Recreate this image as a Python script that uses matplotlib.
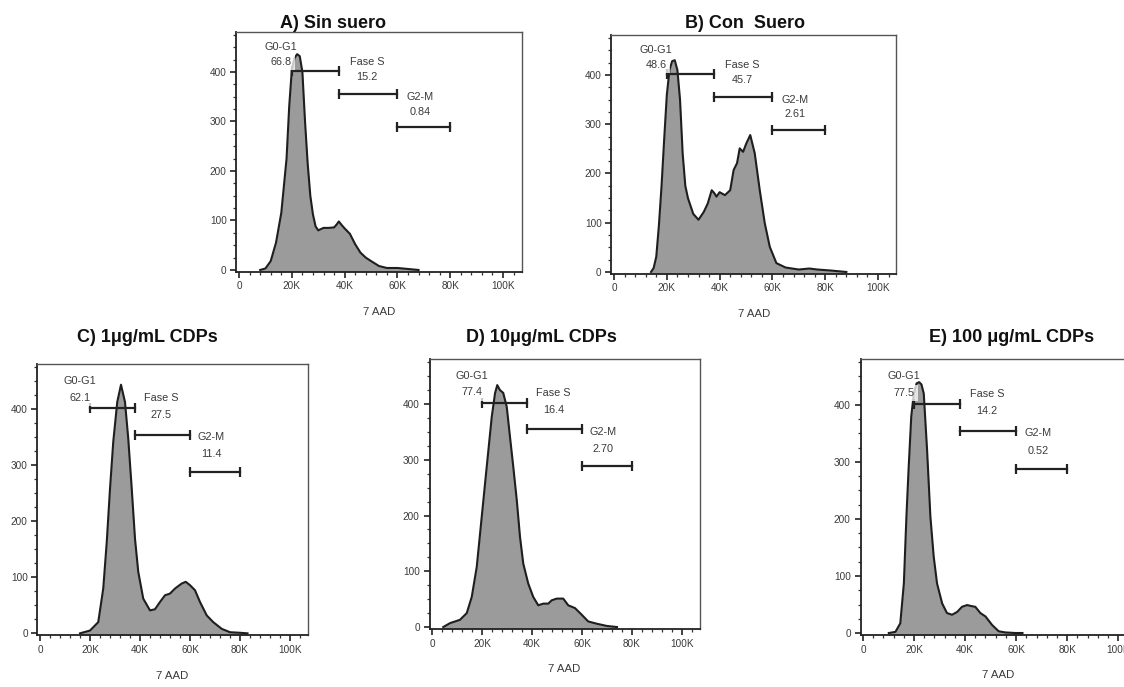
import matplotlib
matplotlib.use("Agg")
import matplotlib.pyplot as plt
from matplotlib.ticker import MultipleLocator, FixedLocator, FixedFormatter

# ---------------- data (x in thousands of 7-AAD units, y = count) ----------------
titles = ["A) Sin suero", "B) Con  Suero", "C) 1μg/mL CDPs", "D) 10μg/mL CDPs", "E) 100 μg/mL CDPs"]

x_a = [8, 10, 12, 14, 16, 18, 19, 20, 21, 22, 23, 24, 25, 26, 27, 28, 29, 30, 32, 34, 36, 37,
       37.8, 39, 40, 42, 44, 46, 48, 50, 53, 56, 60, 64, 68]
y_a = [0, 3, 18, 55, 115, 225, 330, 405, 428, 436, 432, 400, 300, 215, 150, 112, 88, 80, 85, 85,
       86, 92, 98, 90, 84, 73, 52, 35, 25, 18, 8, 4, 4, 2, 0]

x_b = [14, 15, 16, 17, 18, 19, 20, 21, 22, 23, 24, 25, 26, 27, 28, 30, 32, 34, 35.5, 37, 38, 38.8,
       40, 42, 44, 45.3, 46.6, 47.6, 48.9, 50.1, 51.6, 53.3, 55.2, 57.1, 59, 61.5, 65, 70, 74, 77, 82, 88]
y_b = [0, 8, 31, 95, 175, 270, 360, 410, 428, 430, 410, 350, 240, 175, 150, 118, 106, 122, 139,
       166, 160, 153, 162, 156, 166, 207, 221, 251, 244, 261, 278, 241, 166, 99, 51, 18, 9, 5, 7, 5, 3, 0]

x_c = [16, 20, 23.3, 25.3, 26.7, 28, 29.3, 30.9, 32.4, 34, 35.3, 36.7, 38, 39.3, 41.3, 44, 46, 48,
       50, 52, 54, 56.7, 58.3, 60, 62, 64, 66.7, 69.3, 72.7, 76, 80, 83]
y_c = [0, 5, 20, 80, 163, 258, 342, 413, 444, 413, 348, 258, 169, 110, 62, 41, 43, 56, 68, 71, 80,
       89, 92, 86, 77, 56, 32, 20, 8, 2, 1, 0]

x_d = [4.5, 7.2, 11.2, 13.9, 15.9, 17.9, 19.9, 21.9, 23.9, 25.2, 26.1, 27.2, 28.5, 29.9, 31.2, 32.5,
       33.9, 35.2, 36.5, 38.5, 40.5, 42.5, 44.5, 46.5, 47.9, 49.9, 52.5, 54.5, 57.2, 59.9, 62.5, 65.9, 69.9, 74]
y_d = [0, 7, 13, 25, 54, 108, 198, 288, 377, 419, 434, 425, 420, 395, 341, 288, 228, 162, 114, 78,
       54, 39, 42, 42, 48, 51, 51, 39, 34, 22, 10, 6, 2, 0]

x_e = [10.1, 12.7, 14.6, 16, 17, 17.9, 18.9, 19.9, 21, 22, 22.9, 23.8, 25.1, 26.4, 27.7, 29, 31,
       32.9, 34.9, 36.9, 38.8, 40.8, 42.7, 44, 46, 48, 50.6, 53.2, 55.8, 59.7, 62.5]
y_e = [0, 2, 17, 87, 204, 292, 380, 420, 438, 440, 436, 420, 321, 204, 134, 87, 52, 35, 32, 37, 46,
       49, 47, 46, 35, 29, 14, 3, 1, 0, 0]

gate_names = ["G0-G1", "Fase S", "G2-M"]
gate_ranges = [(20, 38), (38, 60), (60, 80)]
gate_levels = [402, 355, 288]
pct_g0g1 = ["66.8", "48.6", "62.1", "77.4", "77.5"]
pct_s = ["15.2", "45.7", "27.5", "16.4", "14.2"]
pct_g2m = ["0.84", "2.61", "11.4", "2.70", "0.52"]

x_ticks = [0, 20, 40, 60, 80, 100]
x_ticklabels = ["0", "20K", "40K", "60K", "80K", "100K"]
y_ticks = [0, 100, 200, 300, 400]

series = [(x_a, y_a), (x_b, y_b), (x_c, y_c), (x_d, y_d), (x_e, y_e)]

# ---------------- layout ----------------
W, H = 1124, 687
fig = plt.figure(figsize=(W / 100, H / 100), dpi=100)
fig.patch.set_facecolor("white")

XLIM = (-1, 107)
YLIM = (-3.5, 481)
# pixel boxes: left, top, right, bottom
boxes = [(236.4, 31.9, 521.5, 271.7),
         (611.4, 35.1, 896.5, 273.7),
         (37.5, 364.0, 307.5, 635.3),
         (429.5, 358.9, 699.5, 629.0),
         (860.5, 358.8, 1136.0, 635.0)]
title_pos = [(333, 23), (745, 23), (147, 338), (541, 338), (1012, 337)]

FILL = "#9b9b9b"
EDGE = "#1e1e1e"
TXT = "#3a3a3a"
FONT = ["Liberation Sans", "DejaVu Sans"]
GFS = 7.8

for i, ((xs, ys), (l, t, r, b)) in enumerate(zip(series, boxes)):
    ax = fig.add_axes([l / W, 1 - b / H, (r - l) / W, (b - t) / H])
    ax.set_xlim(*XLIM)
    ax.set_ylim(*YLIM)
    ax.fill_between(xs, ys, -3.5, color=FILL, lw=0, zorder=1)
    ax.plot(xs, ys, color=EDGE, lw=1.5, zorder=2, solid_joinstyle="round")

    # gates
    for (g0, g1), lvl in zip(gate_ranges, gate_levels):
        ax.plot([g0, g1], [lvl, lvl], color="#222222", lw=1.6, zorder=3,
                marker="|", markersize=7, markeredgewidth=1.6, markevery=[0, 1])
    # gate labels
    ax.text(16, 450, gate_names[0], ha="center", va="center", fontsize=GFS, color=TXT,
            family=FONT, zorder=5)
    ax.text(16, 421, pct_g0g1[i], ha="center", va="center", fontsize=GFS, color=TXT,
            family=FONT, zorder=5,
            bbox=dict(boxstyle="square,pad=0.3", facecolor="white", alpha=0.75, edgecolor="none"))
    ax.text(48.5, 420, gate_names[1], ha="center", va="center", fontsize=GFS, color=TXT,
            family=FONT, zorder=5)
    ax.text(48.5, 390, pct_s[i], ha="center", va="center", fontsize=GFS, color=TXT,
            family=FONT, zorder=5)
    ax.text(68.5, 350, gate_names[2], ha="center", va="center", fontsize=GFS, color=TXT,
            family=FONT, zorder=5)
    ax.text(68.5, 320, pct_g2m[i], ha="center", va="center", fontsize=GFS, color=TXT,
            family=FONT, zorder=5)

    # axes styling
    for side in ["left", "bottom"]:
        ax.spines[side].set_color("#222222")
        ax.spines[side].set_linewidth(1.3)
    for side in ["top", "right"]:
        ax.spines[side].set_color("#555555")
        ax.spines[side].set_linewidth(1.0)
    ax.xaxis.set_major_locator(FixedLocator(x_ticks))
    ax.xaxis.set_major_formatter(FixedFormatter(x_ticklabels))
    ax.xaxis.set_minor_locator(MultipleLocator(4))
    ax.yaxis.set_major_locator(FixedLocator(y_ticks))
    ax.yaxis.set_minor_locator(MultipleLocator(25))
    ax.tick_params(which="major", direction="out", length=4, width=1.2, color="#222222",
                   labelsize=7.2, labelcolor=TXT, pad=3)
    ax.tick_params(which="minor", direction="out", length=2.5, width=0.9, color="#333333")
    for lab in ax.get_xticklabels() + ax.get_yticklabels():
        lab.set_family(FONT)

    ax.annotate("7 AAD", xy=(0.5, 0), xycoords="axes fraction", xytext=(0, -29),
                textcoords="offset points", ha="center", va="center", fontsize=8.2,
                color=TXT, family=FONT)

    tx, ty = title_pos[i]
    fig.text(tx / W, 1 - ty / H, titles[i], ha="center", va="center", fontsize=13,
             fontweight="bold", family=["Liberation Sans", "DejaVu Sans"], color="#111111")

fig.savefig("out.png", dpi=100, facecolor="white")
